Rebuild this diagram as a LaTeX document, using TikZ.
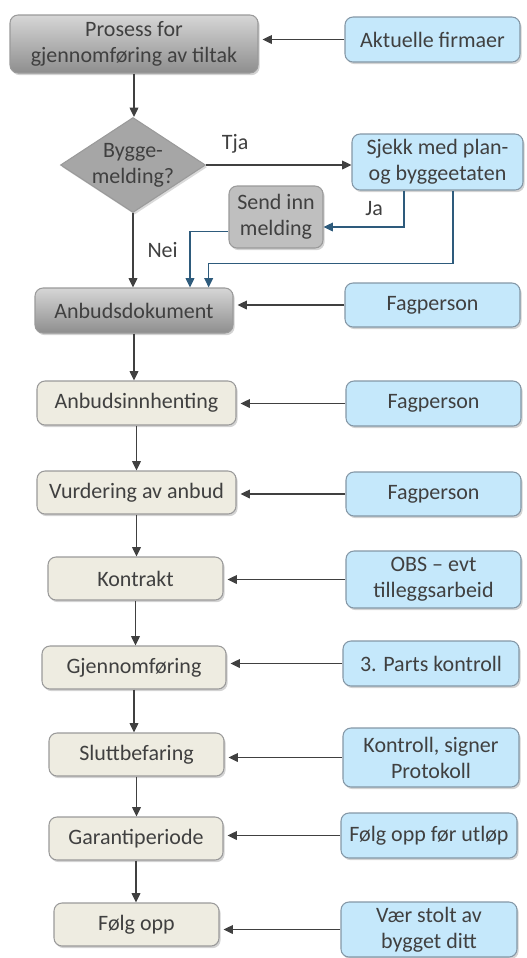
\documentclass[tikz,border=0pt]{standalone}
\usepackage{fontspec}
\setmainfont{Carlito}
\usetikzlibrary{shapes.geometric, shadows, arrows.meta}
\definecolor{ink}{HTML}{404040}
\definecolor{darktop}{HTML}{D6D6D6}
\definecolor{darkbot}{HTML}{8E8E8E}
\definecolor{stepfill}{HTML}{EEECE1}
\definecolor{infofill}{HTML}{C5E8FB}
\definecolor{infoline}{HTML}{8497A6}
\definecolor{boxline}{HTML}{9A9A9A}
\definecolor{flowblue}{HTML}{2E5B7C}
\tikzset{box size/.style 2 args = {minimum width=#1*0.75pt, minimum height=#2*0.75pt}}
\tikzset{base box/.style = {rectangle, rounded corners=6pt, draw=boxline, line width=0.8pt,
    text=ink, align=center, inner sep=2pt,
    drop shadow={opacity=0.35, shadow xshift=1.2pt, shadow yshift=-1.6pt}}}
\tikzset{main step/.style = {base box, top color=darktop, bottom color=darkbot}}
\tikzset{work step/.style = {base box, fill=stepfill}}
\tikzset{info box/.style = {base box, fill=infofill, draw=infoline}}
\tikzset{decision/.style = {diamond, aspect=1.53, draw=boxline, fill=gray!70, line width=0.8pt,
    text=ink, align=center, inner sep=-4pt, minimum width=108.75pt, minimum height=71.25pt,
    drop shadow={opacity=0.3, shadow xshift=1.2pt, shadow yshift=-1.6pt}}}
\tikzset{flow/.style = {-{Triangle[length=7pt,width=6.5pt]}, draw=ink, line width=1.1pt}}
\tikzset{blue flow/.style = {flow, draw=flowblue}}

\begin{document}
\begin{tikzpicture}[x=0.75pt, y=-0.75pt, font=\fontsize{16.5}{19.5}\selectfont]
  \useasboundingbox (0,0) rectangle (526,958);

  \node[main step, box size={248}{58}] (proc) at (134,44) {Prosess for\\gjennomføring av tiltak};
  \node[info box, box size={175}{45}] (firms) at (432.5,39.5) {Aktuelle firmaer};

  \node[decision] (melding) at (133,165) {Bygge-\\melding?};
  \node[info box, box size={171}{56}] (sjekk) at (437.5,162) {Sjekk med plan-\\og byggeetaten};
  \node[base box, fill=gray!50, box size={94}{62}] (sendinn) at (276,217) {Send inn\\melding};

  \node[main step, box size={198}{45}] (anbdok) at (134,310.5) {Anbudsdokument};
  \node[info box, box size={175}{44}] (fag1) at (432.5,305) {Fagperson};

  \node[work step, box size={199}{44}] (anbinn) at (136.5,403) {Anbudsinnhenting};
  \node[info box, box size={175}{45}] (fag2) at (433.5,403.5) {Fagperson};

  \node[work step, box size={199}{43}] (vurd) at (136.5,492.5) {Vurdering av anbud};
  \node[info box, box size={175}{44}] (fag3) at (433.5,494) {Fagperson};

  \node[work step, box size={175}{43}] (kontrakt) at (135.5,578.5) {Kontrakt};
  \node[info box, box size={175}{57}] (obs) at (433.5,579.5) {OBS – evt\\tilleggsarbeid};

  \node[work step, box size={184}{43}] (gjennom) at (134,667.5) {Gjennomføring};
  \node[info box, box size={176}{45}] (parts) at (431,663.5) {3. Parts kontroll};

  \node[work step, box size={175}{43}] (slutt) at (136.5,754.5) {Sluttbefaring};
  \node[info box, box size={176}{59}] (kontroll) at (431,757.5) {Kontroll, signer\\Protokoll};

  \node[work step, box size={174}{43}] (garanti) at (136,838.5) {Garantiperiode};
  \node[info box, box size={176}{45}] (folg) at (429,835.5) {Følg opp før utløp};

  \node[work step, box size={165}{43}] (folgopp) at (136.5,924.5) {Følg opp};
  \node[info box, box size={176}{55}] (stolt) at (429,929.5) {Vær stolt av\\bygget ditt};

  \foreach \a/\b in {proc/melding, anbdok/anbinn, anbinn/vurd, vurd/kontrakt,
      kontrakt/gjennom, gjennom/slutt, slutt/garanti, garanti/folgopp}
    \draw[flow] (\a.south) -- (\a.south |- \b.north);
  \draw[flow] (melding.south) -- (melding.south |- anbdok.north)
    node[midway, right=7pt, text=ink] {Nei};

  \foreach \a/\b in {firms/proc, fag1/anbdok, fag2/anbinn, fag3/vurd, obs/kontrakt,
      parts/gjennom, kontroll/slutt, folg/garanti, stolt/folgopp}
    \draw[flow, shorten >=3pt] (\a.west) -- (\a.west -| \b.east);

  \draw[flow] (melding.east) -- (sjekk.west |- melding.east)
    node[pos=0.2, above=5pt, text=ink] {Tja};
  \draw[blue flow] ([xshift=-25pt]sjekk.south) |- ([yshift=-7.5pt]sendinn.east)
    node[pos=0.25, left=12pt, text=ink] {Ja};
  \draw[blue flow] ([yshift=-11pt]sendinn.west) -| ([xshift=42pt]anbdok.north);
  \draw[blue flow] ([xshift=11.6pt]sjekk.south) |- ([xshift=56pt,yshift=18pt]anbdok.north)
    -- ([xshift=56pt]anbdok.north);
\end{tikzpicture}
\end{document}
